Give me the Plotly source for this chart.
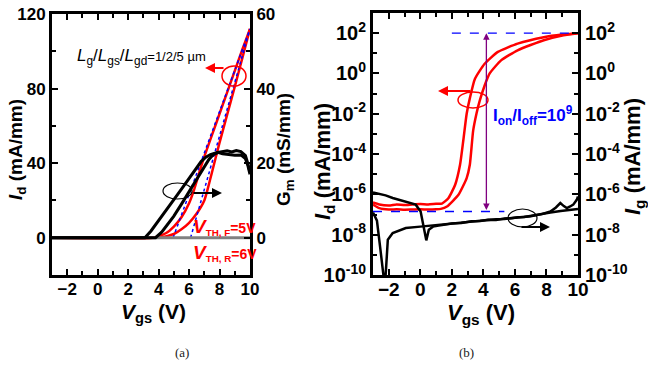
import plotly.graph_objects as go

W, H = 648, 366
def P(x):  # pixel x -> paper
    return x / W
def Q(y):  # pixel y -> paper
    return 1 - y / H

# ---------------- Panel (a) data ----------------
vgs_id_fwd = [-3, 3.6, 4.0, 4.5, 5.0, 5.5, 6.0, 6.3, 6.6, 6.8, 7.0, 7.5, 8.0, 8.5, 9.0, 9.5, 10.0]
id_fwd = [0, 0, 0.8, 2.5, 6, 11, 18.5, 25, 33, 38.5, 43.5, 55, 66.5, 78, 89.5, 101, 112]
vgs_id_rev = [-3, 3.8, 4.2, 4.6, 5.0, 5.5, 6.0, 6.5, 7.0, 7.25, 7.5, 7.75, 8.0, 8.5, 9.0, 9.5, 10.0]
id_rev = [0, 0, 0.3, 1, 2, 4.5, 8, 13, 20, 27, 35, 43, 51, 66, 81, 96.5, 112]

vgs_gm_fwd = [-3, 3.1, 3.5, 4.0, 4.5, 5.0, 5.5, 6.0, 6.5, 6.8, 7.1, 7.4, 7.8, 8.2, 8.5, 8.8, 9.1, 9.4, 9.7, 9.85, 10.0]
gm_fwd = [0, 0, 1.8, 4.5, 7.3, 10.2, 13, 15.8, 18.6, 20.5, 21.6, 22.3, 22.8, 23.1, 23.3, 23.0, 23.4, 23.1, 22.0, 20.0, 17.5]
vgs_gm_rev = [-3, 3.8, 4.2, 4.6, 5.0, 5.5, 6.0, 6.5, 7.0, 7.3, 7.6, 7.9, 8.2, 8.6, 9.0, 9.4, 9.7, 9.85, 10.0]
gm_rev = [0, 0, 1.5, 3.5, 5.8, 9, 12.3, 15.8, 19, 21, 22.3, 22.9, 22.5, 22.3, 22.1, 22.2, 21.2, 19.5, 17]

# linear extrapolation lines (V_TH, F and V_TH, R)
vth_fwd_line_x = [4.95, 10.0]
vth_fwd_line_y = [0, 112]
vth_rev_line_x = [6.1, 10.0]
vth_rev_line_y = [0, 112]
baseline_x = [-3, 10]
baseline_y = [0, 0]

# ---------------- Panel (b) data (log10 of current, mA/mm) ----------------
vgs_b_fwd = [-3, -2.6, -2, -1.5, -1, -0.5, 0, 0.5, 1, 1.37, 1.79, 2.21, 2.52, 2.73, 2.94, 3.15, 3.46, 4.08, 4.92, 6.17, 7.83, 9.0, 10.0]
logid_b_fwd = [-6.4, -6.5, -6.55, -6.5, -6.53, -6.5, -6.48, -6.5, -6.47, -6.46, -6.18, -5.52, -4.53, -3.3, -2.0, -1.2, -0.27, 0.48, 1.07, 1.48, 1.8, 1.93, 2.0]
vgs_b_rev = [-3, -2.6, -2, -1.5, -1, -0.5, 0, 0.5, 1, 1.3, 1.69, 2.42, 2.94, 3.14, 3.35, 3.56, 3.77, 4.08, 4.4, 5.12, 6.17, 7.83, 9.08, 10.0]
logid_b_rev = [-6.5, -6.68, -6.75, -6.74, -6.76, -6.75, -6.74, -6.75, -6.74, -6.72, -6.6, -6.02, -5.19, -4.53, -2.85, -2.0, -1.35, -0.6, 0.0, 0.65, 1.15, 1.65, 1.9, 2.0]

vgs_ig_1 = [-3, -2.79, -2.2, -1.75, -1.2, -0.71, -0.29, 0.02, 0.23, 0.38, 0.54, 0.8, 1.17, 2.0, 2.6, 3.25, 3.8, 4.3, 4.8, 5.33, 5.8, 6.2, 6.6, 7.0, 7.6, 8.25, 8.9, 9.5, 10.0]
logig_1 = [-5.9, -5.94, -6.05, -6.18, -6.3, -6.43, -6.51, -6.85, -7.75, -8.28, -7.75, -7.6, -7.55, -7.45, -7.42, -7.33, -7.32, -7.26, -7.27, -7.2, -7.18, -7.13, -7.12, -7.06, -7.0, -6.9, -6.82, -6.78, -6.72]
vgs_ig_2 = [-3, -2.75, -2.55, -2.35, -2.25, -2.15, -2.06, -1.75, -1.3, -0.92, 0, 1.17, 2.2, 2.8, 3.25, 3.8, 4.3, 4.8, 5.33, 5.8, 6.2, 7.0, 7.7, 8.25, 8.6, 8.88, 9.1, 9.29, 9.5, 9.7, 9.92, 10.0]
logig_2 = [-6.9, -7.3, -8.6, -10.3, -10.6, -9.4, -8.25, -7.92, -7.78, -7.67, -7.6, -7.5, -7.42, -7.38, -7.34, -7.3, -7.27, -7.23, -7.22, -7.17, -7.15, -7.09, -6.98, -6.85, -6.65, -6.43, -6.58, -6.68, -6.6, -6.51, -6.27, -6.1]

ion_line_x = [2.0, 10.0]
ioff_line_x = [-3.0, 5.33]
log_ion = 2.0
log_ioff = -6.85
ratio_arrow_x = 4.19

x_ticks = [-2, 0, 2, 4, 6, 8, 10]
ya_ticks = [0, 40, 80, 120]
ya2_ticks = [0, 20, 40, 60]
log_ticks = [-10, -8, -6, -4, -2, 0, 2]

RED = "#ff0000"
BLUE = "#0000ff"
BLACK = "#000000"

fig = go.Figure()

# ---- panel (a) traces ----
fig.add_trace(go.Scatter(x=vgs_gm_fwd, y=gm_fwd, mode="lines", line=dict(color=BLACK, width=3), xaxis="x", yaxis="y2"))
fig.add_trace(go.Scatter(x=vgs_gm_rev, y=gm_rev, mode="lines", line=dict(color=BLACK, width=3), xaxis="x", yaxis="y2"))
fig.add_trace(go.Scatter(x=vgs_id_fwd, y=id_fwd, mode="lines", line=dict(color=RED, width=2.5, shape="spline", smoothing=0.6), xaxis="x", yaxis="y"))
fig.add_trace(go.Scatter(x=vgs_id_rev, y=id_rev, mode="lines", line=dict(color=RED, width=2.5, shape="spline", smoothing=0.6), xaxis="x", yaxis="y"))
fig.add_trace(go.Scatter(x=vth_fwd_line_x, y=vth_fwd_line_y, mode="lines", line=dict(color=BLUE, width=1.5, dash="dot"), xaxis="x", yaxis="y"))
fig.add_trace(go.Scatter(x=vth_rev_line_x, y=vth_rev_line_y, mode="lines", line=dict(color=BLUE, width=1.5, dash="dot"), xaxis="x", yaxis="y"))
fig.add_trace(go.Scatter(x=baseline_x, y=baseline_y, mode="lines", line=dict(color="#808080", width=3), xaxis="x", yaxis="y"))

# ---- panel (b) traces ----
fig.add_trace(go.Scatter(x=vgs_ig_1, y=[10 ** v for v in logig_1], mode="lines", line=dict(color=BLACK, width=2.5), xaxis="x2", yaxis="y4"))
fig.add_trace(go.Scatter(x=vgs_ig_2, y=[10 ** v for v in logig_2], mode="lines", line=dict(color=BLACK, width=2.5), xaxis="x2", yaxis="y4"))
fig.add_trace(go.Scatter(x=vgs_b_fwd, y=[10 ** v for v in logid_b_fwd], mode="lines", line=dict(color=RED, width=2.5, shape="spline", smoothing=0.5), xaxis="x2", yaxis="y3"))
fig.add_trace(go.Scatter(x=vgs_b_rev, y=[10 ** v for v in logid_b_rev], mode="lines", line=dict(color=RED, width=2.5, shape="spline", smoothing=0.5), xaxis="x2", yaxis="y3"))
fig.add_trace(go.Scatter(x=ion_line_x, y=[10 ** log_ion] * 2, mode="lines", line=dict(color=BLUE, width=1.3, dash="dash"), xaxis="x2", yaxis="y3"))
fig.add_trace(go.Scatter(x=ioff_line_x, y=[10 ** log_ioff] * 2, mode="lines", line=dict(color=BLUE, width=1.3, dash="dash"), xaxis="x2", yaxis="y3"))

FONT = "Liberation Sans"
tfa = dict(family=FONT, size=17, color=BLACK, weight="bold")
tfb = dict(family=FONT, size=20, color=BLACK, weight="bold")
tfbx = dict(family=FONT, size=19, color=BLACK, weight="bold")

common = dict(showgrid=False, zeroline=False, showline=True, linecolor=BLACK, linewidth=3,
              ticks="inside", ticklen=6, tickwidth=2, tickcolor=BLACK, automargin=False)

ydom = [1 - 275 / H, 1 - 14 / H]

fig.update_layout(
    width=W, height=H, autosize=False,
    margin=dict(l=0, r=0, t=0, b=0, pad=0),
    paper_bgcolor="white", plot_bgcolor="white",
    showlegend=False,
    xaxis=dict(domain=[P(52), P(250)], range=[-3, 10], anchor="y", mirror="ticks",
               tickmode="array", tickvals=x_ticks, tickfont=tfa, ticklabelstandoff=-3,
               minor=dict(ticks="inside", ticklen=4, tickwidth=2, tickcolor=BLACK, dtick=1, tick0=0), **common),
    yaxis=dict(domain=ydom, range=[-20, 120], anchor="x",
               tickmode="array", tickvals=ya_ticks, tickfont=tfa,
               minor=dict(ticks="inside", ticklen=4, tickwidth=2, tickcolor=BLACK, tickvals=[-20, 20, 60, 100]), **common),
    yaxis2=dict(range=[-10, 60], overlaying="y", side="right", anchor="x",
                tickmode="array", tickvals=ya2_ticks, tickfont=tfa,
                minor=dict(ticks="inside", ticklen=4, tickwidth=2, tickcolor=BLACK, tickvals=[-10, 10, 30, 50]), **common),
    xaxis2=dict(domain=[P(373), P(578)], range=[-3, 10], anchor="y3", mirror="ticks",
                tickmode="array", tickvals=x_ticks, tickfont=tfbx, ticklabelstandoff=-5,
                minor=dict(ticks="inside", ticklen=4, tickwidth=2, tickcolor=BLACK, dtick=1, tick0=0), **common),
    yaxis3=dict(domain=[1 - 275 / H, 1 - 13 / H], type="log", range=[-10, 3], anchor="x2",
                tickmode="array", tickvals=[10 ** t for t in log_ticks],
                ticktext=["10<sup>%d</sup>" % t for t in log_ticks], tickfont=tfb,
                minor=dict(ticks="inside", ticklen=4, tickwidth=2, tickcolor=BLACK,
                           tickvals=[10 ** t for t in [-9, -7, -5, -3, -1, 1, 3]]), **common),
    yaxis4=dict(type="log", range=[-10, 3], overlaying="y3", side="right", anchor="x2",
                tickmode="array", tickvals=[10 ** t for t in log_ticks],
                ticktext=["10<sup>%d</sup>" % t for t in log_ticks], tickfont=tfb,
                minor=dict(ticks="inside", ticklen=4, tickwidth=2, tickcolor=BLACK,
                           tickvals=[10 ** t for t in [-9, -7, -5, -3, -1, 1, 3]]), **common),
)

ann = []
def text(x, y, s, size, color=BLACK, bold=True, angle=0, xanchor="center", yanchor="middle", family=FONT):
    f = dict(family=family, size=size, color=color)
    if bold:
        f["weight"] = "bold"
    ann.append(dict(x=P(x), y=Q(y), xref="paper", yref="paper", text=s, showarrow=False,
                    textangle=angle, font=f, xanchor=xanchor, yanchor=yanchor))

def arrow(x_head, y_head, dx, dy, color, width=2):
    ann.append(dict(x=P(x_head), y=Q(y_head), xref="paper", yref="paper", text="", showarrow=True,
                    ax=dx, ay=dy, arrowhead=2, arrowsize=1, arrowwidth=width, arrowcolor=color))

# axis titles panel (a)
text(17, 150, "<i>I</i><sub>d</sub> (mA/mm)", 19, angle=-90)
text(285, 150, "G<sub>m</sub> (mS/mm)", 19, angle=-90)
text(153, 313, "<i>V</i><sub>gs</sub> (V)", 21)
text(182, 352, "(a)", 13, color="#222222", bold=False, family="Liberation Serif")
# axis titles panel (b)
text(324, 162, "<i>I</i><sub>d</sub> (mA/mm)", 22, angle=-90)
text(634, 157, "<i>I</i><sub>g</sub> (mA/mm)", 22, angle=-90)
text(481, 314, "<i>V</i><sub>gs</sub> (V)", 22)
text(466, 352, "(b)", 13, color="#222222", bold=False, family="Liberation Serif")

# panel (a) annotations
text(75, 57, "<i>L</i><sub>g</sub>/<i>L</i><sub>gs</sub>/<i>L</i><sub>gd</sub><span style='font-size:13px'>=1/2/5 µm</span>",
     17, bold=False, xanchor="left")
text(191, 227, "<span style='font-size:19px'><i>V</i></span><sub>TH, F</sub>=5V", 14, color=RED, xanchor="left")
text(191, 253, "<span style='font-size:19px'><i>V</i></span><sub>TH, R</sub>=6V", 14, color=RED, xanchor="left")
arrow(205, 68, 20, 0, RED)
arrow(222, 193, -30, 0, BLACK)

# panel (b) annotations
text(491, 115, "I<sub>on</sub>/I<sub>off</sub>=10<sup>9</sup>", 17, color=BLUE, xanchor="left")
arrow(438, 91, 34, 0, RED)
arrow(550, 227, -30, 0, BLACK)
ann.append(dict(x=ratio_arrow_x, y=log_ion, xref="x2", yref="y3", ax=ratio_arrow_x, ay=log_ioff,
                axref="x2", ayref="y3", text="", showarrow=True, arrowhead=2, arrowside="end+start",
                arrowsize=1, arrowwidth=1.3, arrowcolor="#800080"))

fig.update_layout(annotations=ann)

shapes = [
    dict(type="circle", xref="paper", yref="paper", x0=P(222), x1=P(246), y0=Q(86), y1=Q(66),
         line=dict(color=RED, width=1.5)),
    dict(type="circle", xref="paper", yref="paper", x0=P(163), x1=P(192), y0=Q(199), y1=Q(183),
         line=dict(color=BLACK, width=1.2)),
    dict(type="circle", xref="paper", yref="paper", x0=P(458), x1=P(488), y0=Q(108), y1=Q(92),
         line=dict(color=RED, width=1.5)),
    dict(type="circle", xref="paper", yref="paper", x0=P(508), x1=P(537), y0=Q(227), y1=Q(209),
         line=dict(color=BLACK, width=1.2)),
]
fig.update_layout(shapes=shapes)

fig.write_html("out.html", config={"displayModeBar": False},
               post_script="document.body.style.margin='0px';document.body.style.overflow='hidden';")
